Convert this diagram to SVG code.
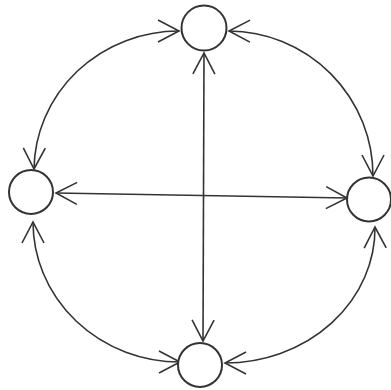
<svg xmlns="http://www.w3.org/2000/svg" width="391" height="390" viewBox="0 0 391 390">
<style>
.node{fill:#fff;stroke:#333;stroke-width:2}
.edge{fill:none;stroke:#333;stroke-width:1.6;marker-start:url(#v);marker-end:url(#v)}
</style>
<defs>
<marker id="v" markerUnits="userSpaceOnUse" viewBox="-26 -14 30 28" markerWidth="30" markerHeight="28" refX="0" refY="0" orient="auto-start-reverse" overflow="visible">
<path d="M-21,-11 L0,0 L-21,11" fill="none" stroke="#333" stroke-width="1.6"/>
</marker>
</defs>
<rect width="391" height="390" fill="#fff"/>
<g id="connectors">
<path class="edge" d="M179,31 A145,140 0 0 0 34,169"/>
<path class="edge" d="M229,31 A145,145 0 0 1 373,176"/>
<path class="edge" d="M375,227 A150,135 0 0 1 225,363"/>
<path class="edge" d="M180,362 A147,140 0 0 1 33,222"/>
<path class="edge" d="M204,53 L203,341"/>
<path class="edge" d="M56,193 L347,198"/>
</g>
<g id="n-top"><circle class="node" cx="204" cy="28" r="22.5"/></g>
<g id="n-left"><circle class="node" cx="31" cy="192" r="22"/></g>
<g id="n-right"><circle class="node" cx="369" cy="199.5" r="22"/></g>
<g id="n-bottom"><circle class="node" cx="200" cy="365" r="22"/></g>
</svg>
